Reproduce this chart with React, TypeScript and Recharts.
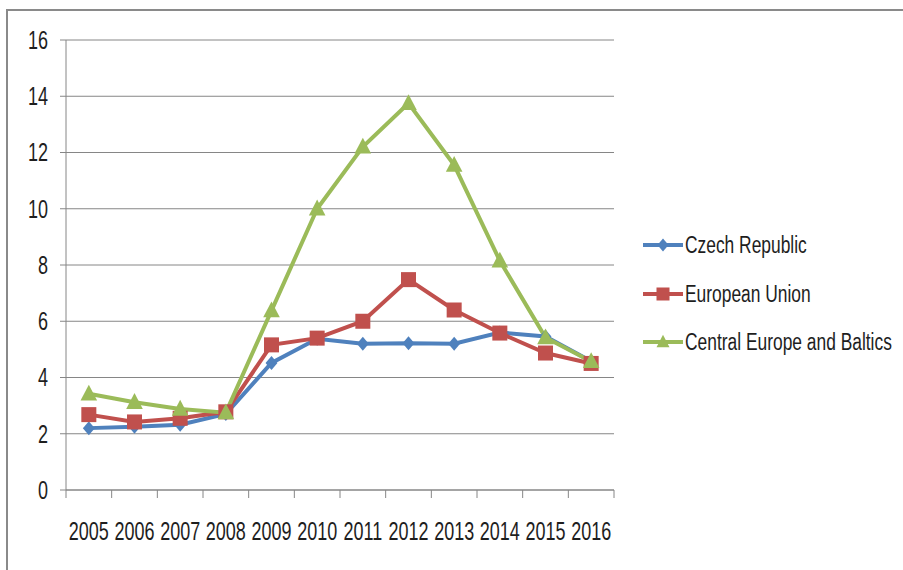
import React from 'react';
import { LineChart, Line, XAxis, YAxis, CartesianGrid } from 'recharts';

const years = ['2005', '2006', '2007', '2008', '2009', '2010', '2011', '2012', '2013', '2014', '2015', '2016'];
const czechRepublic = [2.2, 2.25, 2.32, 2.7, 4.52, 5.38, 5.2, 5.22, 5.2, 5.6, 5.46, 4.58];
const europeanUnion = [2.68, 2.42, 2.55, 2.78, 5.16, 5.4, 6.0, 7.48, 6.4, 5.58, 4.87, 4.5];
const centralEuropeBaltics = [3.42, 3.12, 2.88, 2.75, 6.38, 10.0, 12.2, 13.75, 11.55, 8.15, 5.42, 4.57];
const yTicks = [0, 2, 4, 6, 8, 10, 12, 14, 16];

const seriesNames = ['Czech Republic', 'European Union', 'Central Europe and Baltics'];
const colors = ['#4F81BD', '#C0504D', '#9BBB59'];

const data = years.map((y, i) => ({
  year: y,
  cz: czechRepublic[i],
  eu: europeanUnion[i],
  ceb: centralEuropeBaltics[i],
}));

const FONT = '"Liberation Sans", Arial, sans-serif';
const W = 903;
const H = 570;
const M = { top: 40, right: 289, left: 0, bottom: 20 };
const Y_W = 66;
const X_H = 60;
const PLOT_W = W - M.left - M.right - Y_W;
const BAND = PLOT_W / years.length;
const AXIS_COLOR = '#868686';
const TEXT_COLOR = '#1e1e1e';
const STRETCH = 1.4;

const Diamond = (props: any) => {
  const { cx, cy, fill, size = 7 } = props;
  if (cx == null || cy == null) return null;
  return <polygon points={`${cx},${cy - size} ${cx + size * 0.85},${cy} ${cx},${cy + size} ${cx - size * 0.85},${cy}`} fill={fill} />;
};
const Square = (props: any) => {
  const { cx, cy, fill, size = 7 } = props;
  if (cx == null || cy == null) return null;
  return <rect x={cx - size} y={cy - size} width={size * 2} height={size * 2} fill={fill} />;
};
const Triangle = (props: any) => {
  const { cx, cy, fill, size = 8 } = props;
  if (cx == null || cy == null) return null;
  return <polygon points={`${cx},${cy - size * 1.1} ${cx + size},${cy + size * 0.8} ${cx - size},${cy + size * 0.8}`} fill={fill} />;
};
const markers = [Diamond, Square, Triangle];
const markerSizes = [7, 7.5, 8.3];

const XTick = (props: any) => {
  const { x, y, payload, index } = props;
  const last = index === years.length - 1;
  return (
    <g>
      <line x1={x - BAND / 2} x2={x - BAND / 2} y1={y} y2={y + 8} stroke={AXIS_COLOR} strokeWidth={1} />
      {last && <line x1={x + BAND / 2} x2={x + BAND / 2} y1={y} y2={y + 8} stroke={AXIS_COLOR} strokeWidth={1} />}
      <text
        transform={`translate(${x},${y + 41}) scale(1,${STRETCH})`}
        textAnchor="middle"
        dy="0.355em"
        fill={TEXT_COLOR}
        fontSize={18}
        fontFamily={FONT}
      >
        {payload.value}
      </text>
    </g>
  );
};

const YTick = (props: any) => {
  const { x, y, payload } = props;
  return (
    <text
      transform={`translate(${x},${y}) scale(1,${STRETCH})`}
      textAnchor="end"
      dy="0.355em"
      fill={TEXT_COLOR}
      fontSize={18}
      fontFamily={FONT}
    >
      {payload.value}
    </text>
  );
};

const legendRows = [245, 294, 342];

const LegendBox = () => (
  <div style={{ position: 'absolute', left: 0, top: 0, fontFamily: FONT, fontSize: 17.4, color: TEXT_COLOR }}>
    {seriesNames.map((name, i) => {
      const Marker = markers[i];
      return (
        <div
          key={name}
          style={{
            position: 'absolute',
            left: 642,
            top: legendRows[i] - 12,
            height: 24,
            display: 'flex',
            alignItems: 'center',
            whiteSpace: 'nowrap',
          }}
        >
          <svg width={42} height={24} style={{ display: 'block' }}>
            <line x1={1} x2={41} y1={12} y2={12} stroke={colors[i]} strokeWidth={4} />
            <Marker cx={21} cy={12} fill={colors[i]} size={6.5} />
          </svg>
          <span style={{ display: 'inline-block', marginLeft: 1, transform: `scaleY(${STRETCH - 0.05})`, lineHeight: '24px' }}>
            {name}
          </span>
        </div>
      );
    })}
  </div>
);

export default function App() {
  const keys = ['cz', 'eu', 'ceb'];
  return (
    <div style={{ position: 'absolute', left: 0, top: 0, width: W, height: H, overflow: 'hidden', background: '#fff' }}>
      <div
        style={{
          position: 'absolute',
          left: 6,
          top: 9,
          width: W,
          height: H,
          borderLeft: '2px solid #8a8a8a',
          borderTop: '2px solid #8a8a8a',
        }}
      />
      <div style={{ position: 'absolute', left: 0, top: 0 }}>
        <LineChart width={W} height={H} data={data} margin={M} style={{ fontFamily: FONT }}>
          <CartesianGrid vertical={false} stroke={AXIS_COLOR} strokeWidth={1} />
          <XAxis
            dataKey="year"
            height={X_H}
            padding={{ left: BAND / 2, right: BAND / 2 }}
            axisLine={{ stroke: AXIS_COLOR }}
            tickLine={false}
            tickSize={0}
            tickMargin={0}
            interval={0}
            tick={<XTick />}
          />
          <YAxis
            width={Y_W}
            domain={[0, 16]}
            ticks={yTicks}
            interval={0}
            axisLine={{ stroke: AXIS_COLOR }}
            tickLine={{ stroke: AXIS_COLOR }}
            tickSize={6}
            tickMargin={12}
            tick={<YTick />}
          />
          {keys.map((k, i) => {
            const Marker = markers[i];
            return (
              <Line
                key={k}
                dataKey={k}
                name={seriesNames[i]}
                stroke={colors[i]}
                strokeWidth={4}
                isAnimationActive={false}
                dot={(p: any) => <Marker key={`${k}-${p.index}`} cx={p.cx} cy={p.cy} fill={colors[i]} size={markerSizes[i]} />}
                activeDot={false}
              />
            );
          })}
        </LineChart>
      </div>
      <LegendBox />
    </div>
  );
}
